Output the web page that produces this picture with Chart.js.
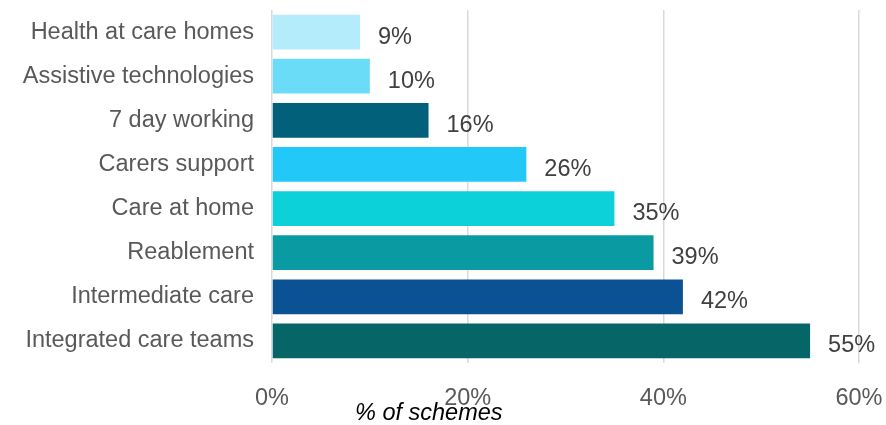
<!DOCTYPE html>
<html>
<head>
<meta charset="utf-8">
<script src="https://cdn.jsdelivr.net/npm/chart.js@4/dist/chart.umd.min.js"></script>
<style>
  html, body { margin: 0; padding: 0; background: #fff; }
  #wrap { width: 886px; height: 425px; position: relative; }
</style>
</head>
<body>
<div id="wrap"><canvas id="c"></canvas></div>
<script>
// Share of schemes by intervention type
const categories = [
  'Health at care homes',
  'Assistive technologies',
  '7 day working',
  'Carers support',
  'Care at home',
  'Reablement',
  'Intermediate care',
  'Integrated care teams'
];
const shares = [9, 10, 16, 26, 35, 39, 42, 55];
const barColors = ['#B4ECFB', '#6ADCF8', '#03607A', '#22C9F8', '#0CD1D9', '#099BA1', '#0B5294', '#066667'];
const xTicks = [0, 20, 40, 60];
const axisTitle = '% of schemes';

const FONT = '"Liberation Sans", Arial, sans-serif';
const SIZE = 23.5;

// Value labels just past the end of each bar
const valueLabels = {
  id: 'valueLabels',
  afterDatasetsDraw(chart) {
    const ctx = chart.ctx;
    const meta = chart.getDatasetMeta(0);
    ctx.save();
    ctx.font = SIZE + 'px ' + FONT;
    ctx.fillStyle = '#404040';
    ctx.textAlign = 'left';
    ctx.textBaseline = 'middle';
    meta.data.forEach((bar, i) => {
      ctx.fillText(shares[i] + '%', bar.x + 18, bar.y + 5);
    });
    ctx.restore();
  }
};

// Italic axis caption under the tick labels
const axisCaption = {
  id: 'axisCaption',
  afterDraw(chart) {
    const ctx = chart.ctx;
    const area = chart.chartArea;
    ctx.save();
    ctx.font = 'italic ' + SIZE + 'px ' + FONT;
    ctx.fillStyle = '#000';
    ctx.textAlign = 'left';
    ctx.textBaseline = 'middle';
    ctx.fillText(axisTitle, area.left + 83, 413);
    ctx.restore();
  }
};

new Chart(document.getElementById('c'), {
  type: 'bar',
  data: {
    labels: categories,
    datasets: [{
      data: shares,
      backgroundColor: barColors,
      borderWidth: 0,
      categoryPercentage: 1,
      barPercentage: 0.79
    }]
  },
  options: {
    indexAxis: 'y',
    responsive: true,
    maintainAspectRatio: false,
    animation: false,
    layout: { padding: { top: 10, right: 27, left: 0, bottom: 0 } },
    plugins: { legend: { display: false }, tooltip: { enabled: false } },
    scales: {
      x: {
        min: 0,
        max: 60,
        afterBuildTicks(scale) { scale.ticks = xTicks.map(v => ({ value: v })); },
        afterFit(scale) {
          scale.height = 62;
          scale.paddingLeft = 0;
          scale.paddingRight = 0;
        },
        grid: { color: '#D9D9D9', lineWidth: 1.5, drawTicks: false },
        border: { display: false },
        ticks: {
          padding: 21,
          color: '#595959',
          font: { family: FONT, size: SIZE },
          callback: v => v + '%'
        }
      },
      y: {
        afterFit(scale) {
          scale.width = 272;
          scale.paddingTop = 0;
          scale.paddingBottom = 0;
        },
        grid: { display: false, drawTicks: false },
        border: { display: false },
        ticks: {
          padding: 18,
          color: '#595959',
          font: { family: FONT, size: SIZE }
        }
      }
    }
  },
  plugins: [valueLabels, axisCaption]
});
</script>
</body>
</html>
